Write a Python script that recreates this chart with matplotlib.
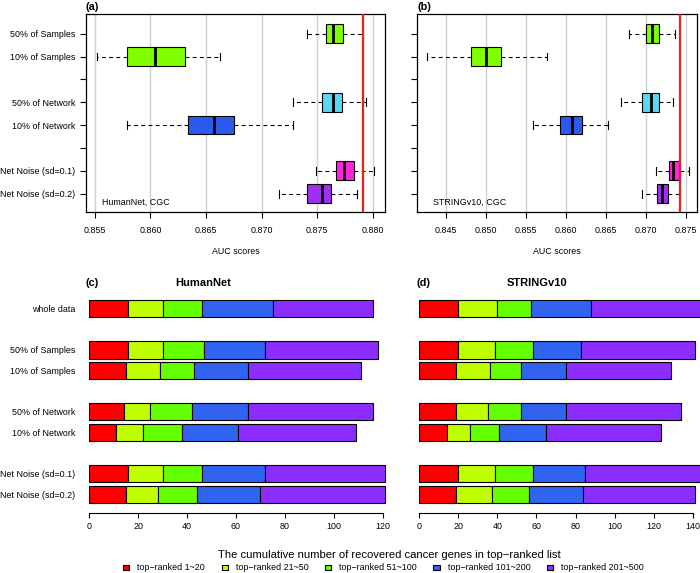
import matplotlib
matplotlib.use("Agg")
import matplotlib.pyplot as plt
from matplotlib.patches import Patch

plt.rcParams['font.family'] = ['Liberation Sans', 'DejaVu Sans']

W, H = 700, 573

# ---- data -------------------------------------------------------------
box_labels = ['50% of Samples', '10% of Samples', '50% of Network', '10% of Network',
              'Net Noise (sd=0.1)', 'Net Noise (sd=0.2)']
box_pos = [8, 7, 5, 4, 2, 1]
box_colors = ['#7FFF00', '#7FFF00', '#5CD6F5', '#2B5BEE', '#FF22DD', '#A030F0']

# HumanNet, CGC AUC summaries
hn_whislo = [0.8741, 0.8552, 0.8728, 0.8579, 0.8749, 0.8716]
hn_q1 = [0.8758, 0.8579, 0.8754, 0.8634, 0.8767, 0.8741]
hn_med = [0.8764, 0.8604, 0.8764, 0.8657, 0.8774, 0.8754]
hn_q3 = [0.8773, 0.8631, 0.8772, 0.8675, 0.8783, 0.8762]
hn_whishi = [0.8791, 0.8663, 0.8794, 0.8728, 0.8801, 0.8786]
hn_whole = 0.8791

# STRINGv10, CGC AUC summaries
st_whislo = [0.8679, 0.8427, 0.8669, 0.8559, 0.8712, 0.8695]
st_q1 = [0.8700, 0.8481, 0.8695, 0.8593, 0.8729, 0.8713]
st_med = [0.8707, 0.8500, 0.8706, 0.8607, 0.8734, 0.8720]
st_q3 = [0.8716, 0.8519, 0.8716, 0.8620, 0.8742, 0.8727]
st_whishi = [0.8736, 0.8576, 0.8734, 0.8652, 0.8753, 0.8741]
st_whole = 0.8742

bar_labels = ['whole data', '50% of Samples', '10% of Samples', '50% of Network',
              '10% of Network', 'Net Noise (sd=0.1)', 'Net Noise (sd=0.2)']
bar_pos = [0, 2, 3, 5, 6, 8, 9]
rank_names = ['top\u2212ranked 1~20', 'top\u2212ranked 21~50', 'top\u2212ranked 51~100',
              'top\u2212ranked 101~200', 'top\u2212ranked 201~500']
rank_colors = ['#FF0000', '#BFFF00', '#66FF00', '#3064F0', '#8C2DFF']

# genes recovered per rank bin (HumanNet)
hn_counts = [
    [16, 16, 15, 14, 11, 16, 15],
    [14, 14, 14, 11, 11, 14, 13],
    [16, 17, 14, 17, 16, 16, 16],
    [29, 25, 22, 23, 23, 26, 26],
    [41, 46, 46, 51, 48, 49, 51],
]
# genes recovered per rank bin (STRINGv10)
st_counts = [
    [20, 20, 19, 19, 14, 20, 19],
    [20, 19, 17, 16, 12, 19, 18],
    [17, 19, 16, 17, 15, 19, 19],
    [31, 25, 23, 23, 24, 27, 28],
    [56, 58, 54, 59, 59, 59, 57],
]


def axes_px(left, top, right, bottom):
    return [left / W, 1 - bottom / H, (right - left) / W, (bottom - top) / H]


fig = plt.figure(figsize=(7, 5.73), dpi=100)
small = 6.4


def box_panel(rect, whislo, q1, med, q3, whishi, whole, xticks, xlim, show_labels, note):
    ax = fig.add_axes(rect)
    stats = []
    for i in range(len(med)):
        stats.append(dict(whislo=whislo[i], q1=q1[i], med=med[i], q3=q3[i], whishi=whishi[i], fliers=[]))
    for x in xticks:
        ax.axvline(x, color='#c9d3d6', lw=1, zorder=0)
    res = ax.bxp(stats, positions=box_pos, orientation='horizontal', widths=0.82,
                 patch_artist=True, showfliers=False, capwidths=0.34,
                 boxprops=dict(edgecolor='black', linewidth=0.8),
                 medianprops=dict(color='black', linewidth=2.0),
                 whiskerprops=dict(color='black', linewidth=0.8, linestyle=(0, (3.5, 3))),
                 capprops=dict(color='black', linewidth=0.8))
    for patch, c in zip(res['boxes'], box_colors):
        patch.set_facecolor(c)
    ax.axvline(whole, color='#E8231A', lw=1.6, zorder=3)
    ax.set_xlim(*xlim)
    ax.set_ylim(0.2, 8.86)
    ax.set_xticks(xticks)
    ax.set_xticklabels(['%.3f' % x for x in xticks])
    ax.set_yticks(range(1, 9))
    if show_labels:
        lab = {p: l for p, l in zip(box_pos, box_labels)}
        ax.set_yticklabels([lab.get(p, '') for p in range(1, 9)])
    else:
        ax.set_yticklabels([])
    ax.tick_params(axis='both', labelsize=small, length=4, width=0.8)
    ax.tick_params(axis='x', pad=6)
    ax.tick_params(axis='y', pad=3.5)
    for s in ax.spines.values():
        s.set_linewidth(0.9)
    ax.set_xlabel('AUC scores', fontsize=small, labelpad=9)
    ax.text(0.055, 0.05, note, transform=ax.transAxes, fontsize=small, ha='left', va='center')
    return ax


axa = box_panel(axes_px(86, 14, 385, 212), hn_whislo, hn_q1, hn_med, hn_q3, hn_whishi, hn_whole,
                [0.855, 0.860, 0.865, 0.870, 0.875, 0.880], (0.8542, 0.8811), True, 'HumanNet, CGC')
axb = box_panel(axes_px(417.3, 14, 696.7, 212), st_whislo, st_q1, st_med, st_q3, st_whishi, st_whole,
                [0.845, 0.850, 0.855, 0.860, 0.865, 0.870, 0.875], (0.84146, 0.8763), False, 'STRINGv10, CGC')


def bar_panel(rect, counts, xmax, xticks, show_labels):
    ax = fig.add_axes(rect)
    left = [0] * len(bar_pos)
    for k in range(len(counts)):
        ax.barh(bar_pos, counts[k], left=left, height=0.84, color=rank_colors[k],
                edgecolor='black', linewidth=0.8)
        left = [a + b for a, b in zip(left, counts[k])]
    ax.set_xlim(0, xmax)
    ax.set_ylim(9.89, -0.9)
    for s in ['top', 'right', 'left']:
        ax.spines[s].set_visible(False)
    ax.spines['bottom'].set_bounds(xticks[0], xticks[-1])
    ax.spines['bottom'].set_linewidth(0.8)
    ax.set_xticks(xticks)
    ax.tick_params(axis='x', labelsize=small, length=3.5, width=0.8, pad=3)
    ax.set_yticks(bar_pos)
    if show_labels:
        ax.set_yticklabels(bar_labels)
    else:
        ax.set_yticklabels([])
    ax.tick_params(axis='y', length=0, labelsize=small, pad=10.3)
    return ax


axc = bar_panel(axes_px(89.3, 290.1, 89.3 + 122 * 2.445, 512.7), hn_counts, 122,
                [0, 20, 40, 60, 80, 100, 120], True)
axd = bar_panel(axes_px(419.3, 290.1, 419.3 + 144.2 * 1.953, 512.7), st_counts, 144.2,
                [0, 20, 40, 60, 80, 100, 120, 140], False)


def ftext(x, y, s, **kw):
    fig.text(x / W, 1 - y / H, s, **kw)


ftext(86, 7, '(a)', fontsize=7.8, fontweight='bold', ha='left', va='center')
ftext(417, 7, '(b)', fontsize=7.8, fontweight='bold', ha='left', va='center')
ftext(86, 283, '(c)', fontsize=7.8, fontweight='bold', ha='left', va='center')
ftext(416.7, 283, '(d)', fontsize=7.8, fontweight='bold', ha='left', va='center')
ftext(203, 283, 'HumanNet', fontsize=8, fontweight='bold', ha='center', va='center')
ftext(536.7, 283, 'STRINGv10', fontsize=8, fontweight='bold', ha='center', va='center')
ftext(389, 555.5, 'The cumulative number of recovered cancer genes in top\u2212ranked list',
      fontsize=8.1, ha='center', va='center')

handles = [Patch(facecolor=c, edgecolor='black', linewidth=0.8) for c in rank_colors]
fig.legend(handles, rank_names, loc='center', bbox_to_anchor=(383.5 / W, 1 - 568 / H), ncol=5,
           frameon=False, fontsize=small, handlelength=0.7, handleheight=0.6,
           handletextpad=0.9, columnspacing=1.85, borderpad=0, borderaxespad=0)

fig.savefig('out.png', dpi=100)
